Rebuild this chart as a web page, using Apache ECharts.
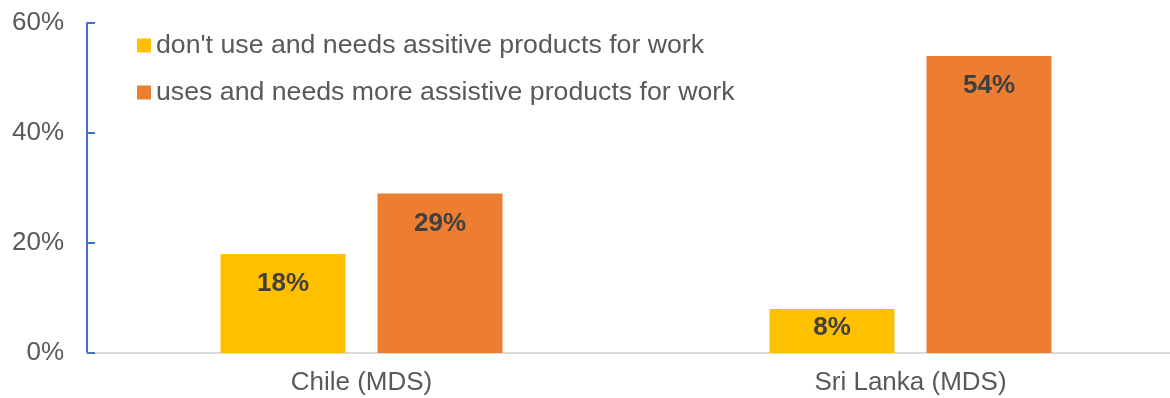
<!DOCTYPE html>
<html>
<head>
<meta charset="utf-8">
<script src="https://cdn.jsdelivr.net/npm/echarts@6/dist/echarts.min.js"></script>
<style>html,body{margin:0;padding:0;background:#fff;}#c{width:1170px;height:398px;}</style>
</head>
<body>
<div id="c"></div>
<script>
const categories = ['Chile (MDS)', 'Sri Lanka (MDS)'];
const seriesNames = ["don't use and needs assitive products for work", 'uses and needs more assistive products for work'];
const dontUse = [18, 8];
const usesMore = [29, 54];
const yTicks = [0, 20, 40, 60];

const chart = echarts.init(document.getElementById('c'));
const font = 'Liberation Sans, Arial, sans-serif';
const labelCfg = {
  show: true, position: 'insideTop', distance: 17,
  formatter: p => p.value + '%',
  fontFamily: font, fontSize: 26, fontWeight: 'bold', color: '#404040'
};
// short bars get their label closer to the top edge
const toItems = arr => arr.map(v => v < 10 ? { value: v, label: { distance: 6 } } : v);
chart.setOption({
  animation: false,
  grid: { left: 87, right: -15, top: 23, bottom: 45, containLabel: false, outerBoundsMode: 'none' },
  legend: {
    orient: 'vertical', left: 137, top: 32, itemGap: 20, padding: 0,
    itemWidth: 14, itemHeight: 14, icon: 'rect',
    textStyle: { fontFamily: font, fontSize: 26.7, color: '#595959' },
    data: seriesNames
  },
  xAxis: {
    type: 'category', data: categories,
    axisLine: { lineStyle: { color: '#D9D9D9', width: 2 } },
    axisTick: { show: false },
    axisLabel: { fontFamily: font, fontSize: 26, color: '#595959', margin: 17 }
  },
  yAxis: {
    type: 'value', min: yTicks[0], max: yTicks[yTicks.length - 1], interval: 20,
    axisLine: { show: true, lineStyle: { color: '#4472C4', width: 2 } },
    axisTick: { show: true, inside: true, length: 8, lineStyle: { color: '#4472C4', width: 2 } },
    splitLine: { show: false },
    axisLabel: { formatter: '{value}%', fontFamily: font, fontSize: 26, color: '#595959', margin: 23 }
  },
  series: [
    { name: seriesNames[0], type: 'bar', data: toItems(dontUse), barWidth: 125, barGap: '25.6%',
      itemStyle: { color: '#FFC000' }, label: labelCfg },
    { name: seriesNames[1], type: 'bar', data: toItems(usesMore), barWidth: 125,
      itemStyle: { color: '#ED7D31' }, label: labelCfg }
  ]
});
</script>
</body>
</html>
